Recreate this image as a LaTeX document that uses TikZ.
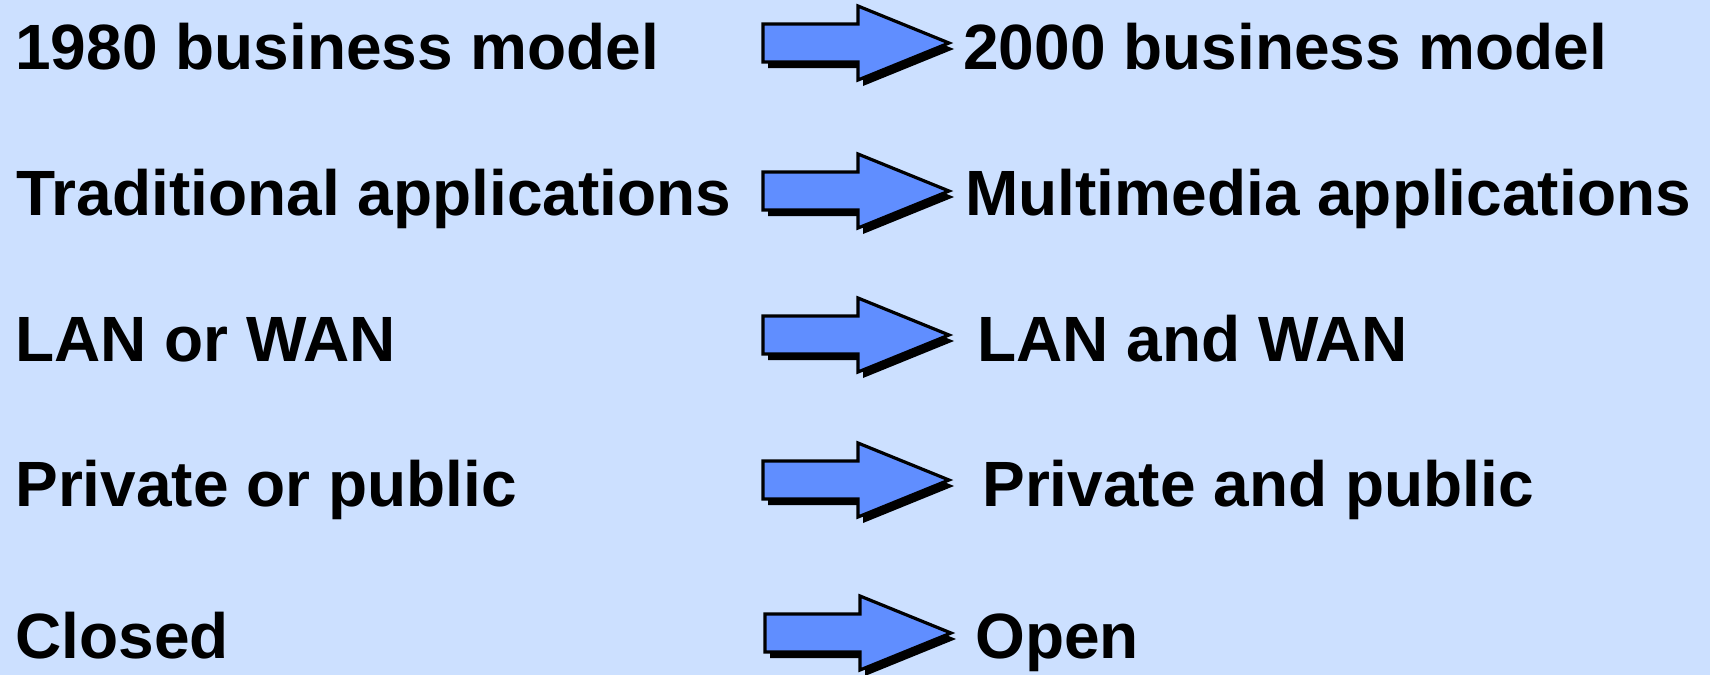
\documentclass[tikz,border=0pt]{standalone}
\usepackage{fontspec}
\setmainfont{Liberation Sans}
\usepackage{xcolor}
\usepackage{tikz}
\usetikzlibrary{positioning}
\usetikzlibrary{calc}
\definecolor{slidebg}{RGB}{204,224,255}
\definecolor{arrowblue}{RGB}{96,142,255}
\tikzstyle{oldnode}=[black, anchor=base west, inner sep=0pt, font=\fontsize{32}{38}\selectfont\bfseries]
\tikzstyle{newnode}=[black, anchor=base west, inner sep=0pt, font=\fontsize{32}{38}\selectfont\bfseries]
\tikzstyle{blockarrow}=[fill=arrowblue, draw=black, line width=1.6pt, line join=miter]
\tikzstyle{blockshadow}=[fill=black]
\newcommand*{\bigarrow}[1]{%
  \fill[blockshadow, shift={($(#1)+(5,6)$)}] (0,-19) -- (95,-19) -- (95,-37) -- (186,0) -- (95,37) -- (95,19) -- (0,19) -- cycle;
  \draw[blockarrow, shift={(#1)}] (0,-19) -- (95,-19) -- (95,-37) -- (186,0) -- (95,37) -- (95,19) -- (0,19) -- cycle;
}

\begin{document}
\begin{tikzpicture}[x=0.5pt, y=-0.5pt]
\fill[slidebg] (0,0) rectangle (1710,675);
\useasboundingbox (0,0) rectangle (1710,675);

\node [oldnode] (old1) at (15,69) {1980 business model};
\node [oldnode] (old2) at (16,215) {Traditional applications};
\node [oldnode] (old3) at (15,361) {LAN or WAN};
\node [oldnode] (old4) at (15,506) {Private or public};
\node [oldnode] (old5) at (15,658) {Closed};

\coordinate (arr1) at (763,43);
\coordinate (arr2) at (763,191);
\coordinate (arr3) at (763,335);
\coordinate (arr4) at (763,480);
\coordinate (arr5) at (765,633);

\node [newnode] (new1) at (963,69) {2000 business model};
\node [newnode] (new2) at (965,215) {Multimedia applications};
\node [newnode] (new3) at (977,361) {LAN and WAN};
\node [newnode] (new4) at (982,506) {Private and public};
\node [newnode] (new5) at (975,658) {Open};

\bigarrow{arr1}
\bigarrow{arr2}
\bigarrow{arr3}
\bigarrow{arr4}
\bigarrow{arr5}
\end{tikzpicture}
\end{document}
